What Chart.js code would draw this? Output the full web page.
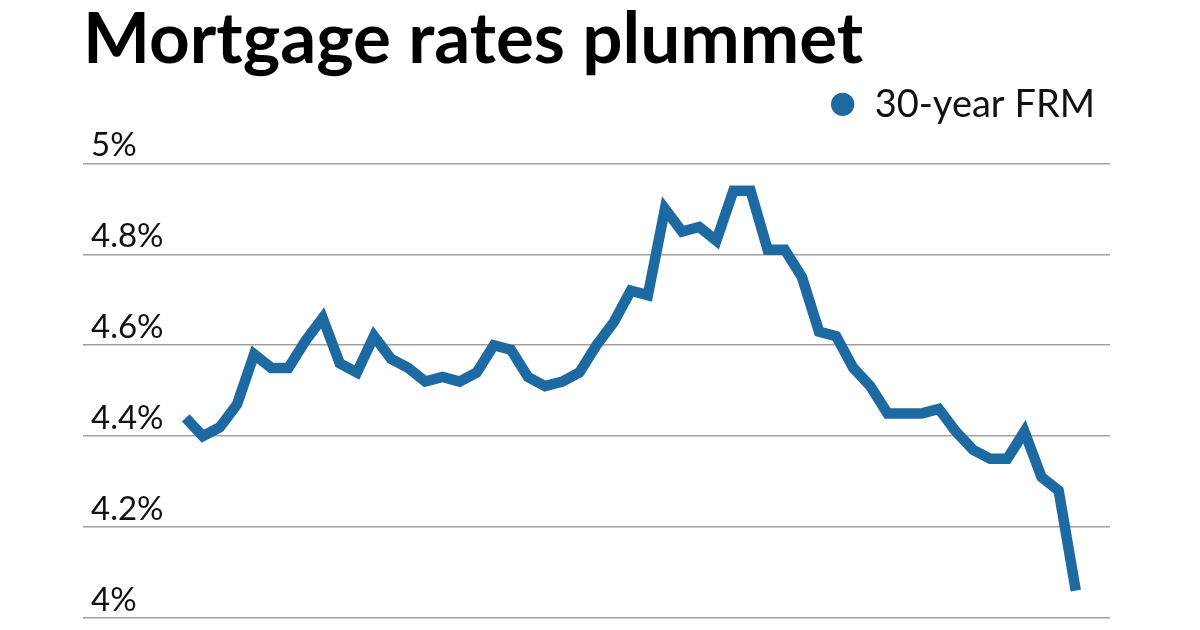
<!DOCTYPE html>
<html>
<head>
<meta charset="utf-8">
<title>Mortgage rates plummet</title>
<script src="https://cdn.jsdelivr.net/npm/chart.js@4.4.1/dist/chart.umd.min.js"></script>
<style>
  html, body { margin: 0; padding: 0; background: #fff; }
  #chart { display: block; }
</style>
</head>
<body>
<canvas id="chart" width="1200" height="630"></canvas>
<script>
// weekly Freddie Mac survey dates
const weeks = [
  "3/29/18", "4/5/18", "4/12/18", "4/19/18", "4/26/18", "5/3/18", "5/10/18", "5/17/18", "5/24/18", "5/31/18",
  "6/7/18", "6/14/18", "6/21/18", "6/28/18", "7/5/18", "7/12/18", "7/19/18", "7/26/18", "8/2/18", "8/9/18",
  "8/16/18", "8/23/18", "8/30/18", "9/6/18", "9/13/18", "9/20/18", "9/27/18", "10/4/18", "10/11/18", "10/18/18",
  "10/25/18", "11/1/18", "11/8/18", "11/15/18", "11/21/18", "11/29/18", "12/6/18", "12/13/18", "12/20/18", "12/27/18",
  "1/3/19", "1/10/19", "1/17/19", "1/24/19", "1/31/19", "2/7/19", "2/14/19", "2/21/19", "2/28/19", "3/7/19",
  "3/14/19", "3/21/19", "3/28/19"
];

// 30-year fixed rate, percent
const frm30 = [
  4.44, 4.40, 4.42, 4.47, 4.58, 4.55, 4.55, 4.61, 4.66, 4.56,
  4.54, 4.62, 4.57, 4.55, 4.52, 4.53, 4.52, 4.54, 4.60, 4.59,
  4.53, 4.51, 4.52, 4.54, 4.60, 4.65, 4.72, 4.71, 4.90, 4.85,
  4.86, 4.83, 4.94, 4.94, 4.81, 4.81, 4.75, 4.63, 4.62, 4.55,
  4.51, 4.45, 4.45, 4.45, 4.46, 4.41, 4.37, 4.35, 4.35, 4.41,
  4.31, 4.28, 4.06
];

const yTicks = [4, 4.2, 4.4, 4.6, 4.8, 5];

const lineColor = "#1c6aa1";

Chart.defaults.font.family = "Lato, 'Noto Sans', sans-serif";
Chart.defaults.color = "#111";

const ctx = document.getElementById("chart").getContext("2d");

new Chart(ctx, {
  type: "line",
  data: {
    datasets: [
      {
        label: "30-year FRM",
        data: frm30.map((v, i) => ({ x: i, y: v, week: weeks[i] })),
        borderColor: lineColor,
        backgroundColor: lineColor,
        borderWidth: 10.5,
        borderJoinStyle: "miter",
        borderCapStyle: "butt",
        pointRadius: 0,
        tension: 0,
        fill: false,
      },
    ],
  },
  options: {
    responsive: false,
    animation: false,
    layout: {
      padding: { left: 83, right: 90, top: 0, bottom: 12 },
    },
    plugins: {
      title: {
        display: true,
        text: "Mortgage rates plummet",
        align: "start",
        color: "#000",
        font: { size: 71, weight: "bold", lineHeight: 0.85 },
        padding: { top: 10, bottom: 0 },
      },
      legend: {
        display: true,
        position: "top",
        align: "end",
        labels: {
          usePointStyle: true,
          pointStyle: "circle",
          boxWidth: 26,
          boxHeight: 16.5,
          padding: 15,
          color: "#111",
          font: { size: 38 },
          // solid dot, no outline from the 10px line width
          generateLabels: (chart) =>
            Chart.defaults.plugins.legend.labels
              .generateLabels(chart)
              .map((item) => ({ ...item, lineWidth: 0 })),
        },
      },
      tooltip: { enabled: false },
    },
    scales: {
      x: {
        type: "linear",
        position: "top",
        min: -6,
        max: 54,
        grid: { display: false },
        border: { display: false },
        ticks: { display: false },
        // gap between the legend and the 5% line
        afterFit: (scale) => {
          scale.height = 30;
        },
      },
      y: {
        min: 4,
        max: 5,
        afterBuildTicks: (scale) => {
          scale.ticks = yTicks.map((v) => ({ value: v }));
        },
        afterFit: (scale) => {
          scale.width = 0;
          scale.paddingTop = 0;
          scale.paddingBottom = 0;
        },
        grid: {
          color: "#a0a0a0",
          lineWidth: 1.5,
          drawTicks: false,
        },
        border: { display: false },
        ticks: {
          mirror: true,
          padding: 8,
          labelOffset: -18,
          color: "#111",
          font: { size: 33 },
          callback: (v) => +v.toFixed(1) + "%",
        },
      },
    },
  },
});
</script>
</body>
</html>
